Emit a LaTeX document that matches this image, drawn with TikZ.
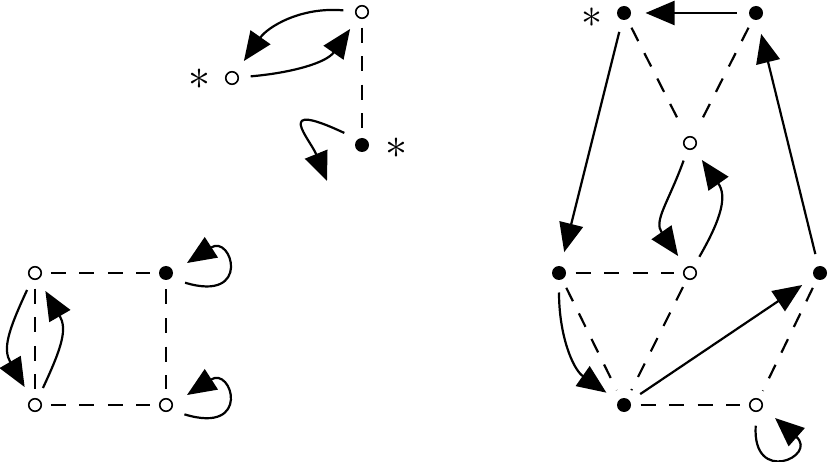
\documentclass[tikz,border=0pt]{standalone}
\usepackage{graphicx}
\usetikzlibrary{arrows.meta}
\begin{document}
\begin{tikzpicture}[x=1pt,y=1pt,
  vopen/.style={circle,draw,line width=1.6pt,fill=white,inner sep=0pt,minimum size=12.5pt,outer sep=9.5pt},
  vfull/.style={circle,fill=black,inner sep=0pt,minimum size=14pt,outer sep=9.5pt},
  dashedge/.style={line width=2.2pt,dash pattern=on 15pt off 13.5pt},
  arr/.style={line width=2.2pt,-{Triangle[length=29pt,width=24pt]},shorten >=5pt,shorten <=3pt},
  loopedge/.style={line width=2.2pt,-{Triangle[length=29pt,width=24pt]},shorten <=5pt},
  starlbl/.style={inner sep=0pt,outer sep=0pt}]
\useasboundingbox[fill=white] (0,0) rectangle (830,461);
% top-left cluster
\node[vopen] (A) at (362,449) {};
\node[vopen] (B) at (232,383) {};
\node[vfull] (C) at (362,316) {};
\node[starlbl] (sB) at (199,382) {\scalebox{4.4}{$\ast$}};
\node[starlbl] (sC) at (396,313) {\scalebox{4.4}{$\ast$}};
\draw[dashedge] (A) -- (C);
\draw[arr] (A) to[out=175,in=55] (B);
\draw[arr] (B) to[out=5,in=235] (A);
\coordinate (cl) at (327,280);
\draw[loopedge] (C.143) .. controls (272,362) and (310,322) .. (cl);
% bottom-left cluster
\node[vopen] (D) at (35,188) {};
\node[vfull] (E) at (166,188) {};
\node[vopen] (F) at (35,56) {};
\node[vopen] (G) at (166,56) {};
\draw[dashedge] (D) -- (E);
\draw[dashedge] (E) -- (G);
\draw[dashedge] (D) -- (F);
\draw[dashedge] (F) -- (G);
\draw[arr] (D) to[out=245,in=120,looseness=1.2] (F);
\draw[arr] (F) to[out=65,in=300,looseness=1.2] (D);
\coordinate (el) at (187,198);
\draw[loopedge] (E.-30) .. controls (252,158) and (232,227) .. (el);
\coordinate (gl) at (187,66);
\draw[loopedge] (G.-30) .. controls (252,26) and (232,95) .. (gl);
% right cluster
\node[vfull] (H) at (624,448) {};
\node[starlbl] (sH) at (592,443) {\scalebox{4.2}{$\ast$}};
\node[vfull] (I) at (756,448) {};
\node[vopen] (J) at (690,318) {};
\node[vfull] (K) at (559,188) {};
\node[vopen] (L) at (690,188) {};
\node[vfull] (M) at (820,188) {};
\node[vfull] (N) at (624,56) {};
\node[vopen] (O) at (756,56) {};
\draw[arr] (I) -- (H);
\draw[dashedge] (H) -- (J);
\draw[dashedge] (I) -- (J);
\draw[arr] (H) -- (K);
\draw[arr] (M) -- (I);
\draw[arr] (J) to[out=250,in=125,looseness=1.2] (L);
\draw[arr] (L) to[out=60,in=305,looseness=1.2] (J);
\draw[dashedge] (K) -- (L);
\draw[dashedge] (K) -- (N);
\draw[dashedge] (L) -- (N);
\draw[dashedge] (M) -- (O);
\draw[dashedge] (N) -- (O);
\draw[arr] (K) to[out=270,in=145] (N);
\draw[arr] (N) -- (M);
\coordinate (ol) at (775,43);
\draw[loopedge] (O.-90) .. controls (752,-25) and (818,5) .. (ol);
\end{tikzpicture}
\end{document}
